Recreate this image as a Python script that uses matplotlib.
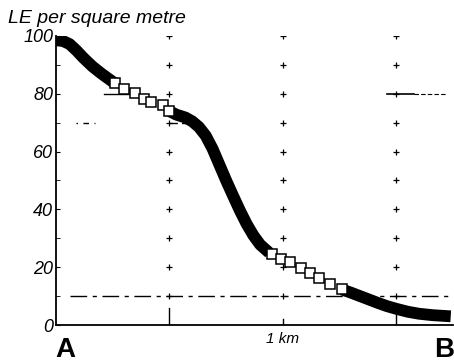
import matplotlib.pyplot as plt

plt.rcParams['font.family'] = ['Liberation Sans', 'DejaVu Sans']

# distance from A (km) and LE per square metre
seg1_km = [0.0, 0.03, 0.06, 0.09, 0.12, 0.16, 0.20, 0.26]
seg1_le = [98.5, 98.3, 97.2, 95.0, 92.5, 89.5, 87.0, 83.6]
sq1_km = [0.26, 0.30, 0.35, 0.39, 0.42, 0.47, 0.50]
sq1_le = [83.6, 81.8, 80.3, 78.3, 77.0, 76.0, 74.0]
seg2_km = [0.50, 0.53, 0.57, 0.60, 0.63, 0.66, 0.69, 0.72, 0.75, 0.78,
           0.81, 0.84, 0.87, 0.90, 0.94]
seg2_le = [74.0, 72.8, 71.8, 70.5, 68.5, 65.5, 61.0, 55.5, 50.0, 44.8,
           39.7, 35.0, 31.0, 27.8, 25.0]
sq2_km = [0.95, 0.99, 1.03, 1.08, 1.12, 1.16, 1.21, 1.26]
sq2_le = [24.5, 22.9, 21.7, 19.7, 18.0, 16.3, 14.3, 12.3]
seg3_km = [1.26, 1.30, 1.34, 1.38, 1.42, 1.46, 1.50, 1.55, 1.60, 1.66, 1.74]
seg3_le = [12.3, 11.2, 10.0, 8.8, 7.6, 6.5, 5.6, 4.6, 3.9, 3.4, 3.0]

grid_km = [0.5, 1.0, 1.5]
grid_le = [10, 20, 30, 40, 50, 60, 70, 80, 90, 100]

yticks = [0, 20, 40, 60, 80, 100]

fig = plt.figure(figsize=(4.54, 3.63), dpi=100)
ax = fig.add_axes([56/454, 38/363, 397/454, 289/363])

# dotted grid of + marks
for gx in grid_km:
    ax.plot([gx]*len(grid_le), grid_le, '+', color='black', ms=4, mew=0.9)
    ax.plot([gx, gx], [0, 6 if gx != 1.0 else 2], color='black', lw=1)

# reference lines
ax.plot([0.06, 1.74], [10, 10], color='black', lw=1, dashes=(12, 4, 3, 4))
ax.plot([0.21, 0.35], [80, 80], color='black', lw=1)
ax.plot([1.46, 1.58], [80, 80], color='black', lw=1.2)
ax.plot([1.58, 1.72], [80, 80], color='black', lw=0.8, dashes=(4, 2))
ax.plot([0.09, 0.17], [70, 70], color='black', lw=1, dashes=(1, 4, 4, 4))
ax.plot([0.5, 0.6], [70, 70], color='black', lw=1, dashes=(6, 3))

# profile
for kx, ky in [(seg1_km, seg1_le), (seg2_km, seg2_le), (seg3_km, seg3_le)]:
    ax.plot(kx, ky, color='black', lw=8.5, solid_capstyle='butt', solid_joinstyle='round')
for kx, ky in [(sq1_km, sq1_le), (sq2_km, sq2_le)]:
    ax.plot(kx, ky, 's', ms=7, mfc='white', mec='black', mew=1.1, zorder=5)

ax.set_xlim(0, 1.75)
ax.set_ylim(0, 100)
ax.spines['top'].set_visible(False)
ax.spines['right'].set_visible(False)
ax.spines['left'].set_linewidth(1.3)
ax.spines['bottom'].set_linewidth(1.3)
ax.set_yticks(yticks)
ax.set_yticklabels([str(v) for v in yticks], fontsize=13, style='italic')
ax.set_yticks(range(10, 100, 20), minor=True)
ax.tick_params(axis='y', which='both', direction='in', length=3, pad=2)
ax.set_xticks([])

fig.text(8/454, 1 - 23/363, 'LE per square metre', fontsize=14, style='italic')
fig.text(65/454, 1 - 357/363, 'A', fontsize=20, ha='center', weight='bold')
fig.text(444/454, 1 - 357/363, 'B', fontsize=20, ha='center', weight='bold')
ax.text(1.0, -2.5, '1 km', fontsize=11, style='italic', ha='center', va='top')

fig.savefig('out.png', dpi=100)
